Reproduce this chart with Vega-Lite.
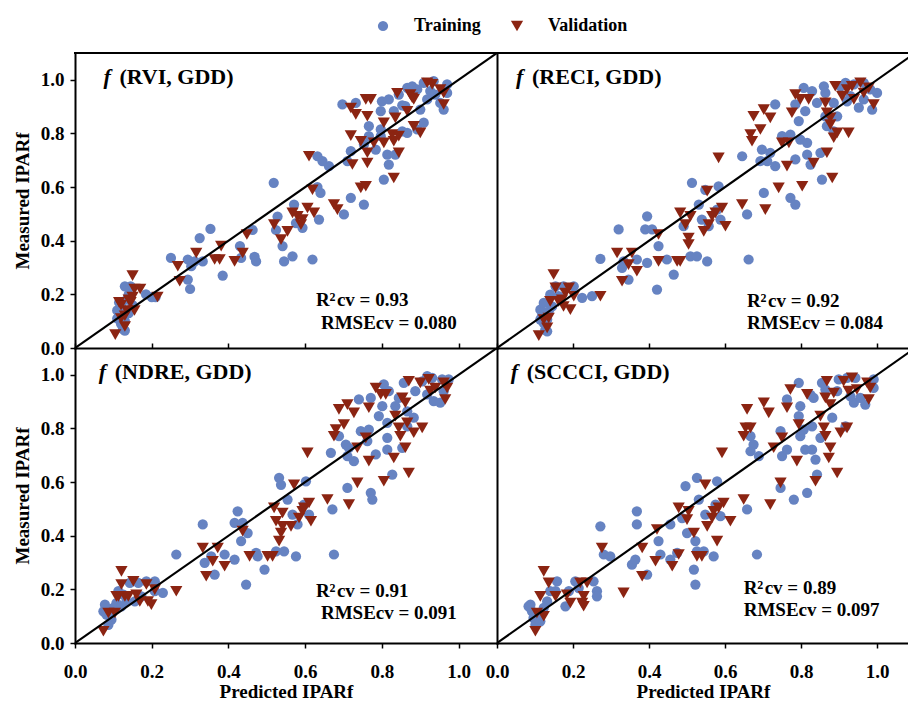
{
  "$schema": "https://vega.github.io/schema/vega-lite/v6.json",
  "padding": {"left": 13, "top": 17, "right": 0, "bottom": 0},
  "background": "white",
  "datasets": {
    "rvi": [
      {"set":"Training","pred":0.11,"meas":0.14},{"set":"Training","pred":0.115,"meas":0.12},{"set":"Training","pred":0.12,"meas":0.09},{"set":"Training","pred":0.125,"meas":0.07},{"set":"Training","pred":0.13,"meas":0.10},{"set":"Training","pred":0.12,"meas":0.16},{"set":"Training","pred":0.135,"meas":0.18},{"set":"Training","pred":0.14,"meas":0.20},{"set":"Training","pred":0.13,"meas":0.23},{"set":"Training","pred":0.145,"meas":0.23},{"set":"Training","pred":0.11,"meas":0.11},{"set":"Training","pred":0.125,"meas":0.13},{"set":"Training","pred":0.14,"meas":0.13},{"set":"Training","pred":0.115,"meas":0.17},{"set":"Training","pred":0.13,"meas":0.065},{"set":"Training","pred":0.15,"meas":0.16},{"set":"Training","pred":0.185,"meas":0.20},{"set":"Training","pred":0.20,"meas":0.19},{"set":"Training","pred":0.21,"meas":0.19},
      {"set":"Training","pred":0.25,"meas":0.336},{"set":"Training","pred":0.294,"meas":0.33},{"set":"Training","pred":0.303,"meas":0.305},{"set":"Training","pred":0.30,"meas":0.22},{"set":"Training","pred":0.294,"meas":0.255},{"set":"Training","pred":0.325,"meas":0.41},{"set":"Training","pred":0.353,"meas":0.444},{"set":"Training","pred":0.312,"meas":0.323},{"set":"Training","pred":0.333,"meas":0.323},{"set":"Training","pred":0.385,"meas":0.27},{"set":"Training","pred":0.43,"meas":0.38},{"set":"Training","pred":0.433,"meas":0.336},{"set":"Training","pred":0.463,"meas":0.44},{"set":"Training","pred":0.468,"meas":0.34},{"set":"Training","pred":0.472,"meas":0.323},{"set":"Training","pred":0.518,"meas":0.616},{"set":"Training","pred":0.528,"meas":0.49},{"set":"Training","pred":0.524,"meas":0.44},{"set":"Training","pred":0.541,"meas":0.38},{"set":"Training","pred":0.545,"meas":0.323},{"set":"Training","pred":0.567,"meas":0.342},{"set":"Training","pred":0.571,"meas":0.535},{"set":"Training","pred":0.576,"meas":0.466},{"set":"Training","pred":0.593,"meas":0.448},{"set":"Training","pred":0.619,"meas":0.33},{"set":"Training","pred":0.632,"meas":0.60},{"set":"Training","pred":0.64,"meas":0.578},{"set":"Training","pred":0.636,"meas":0.479},{"set":"Training","pred":0.662,"meas":0.678},{"set":"Training","pred":0.632,"meas":0.715},{"set":"Training","pred":0.645,"meas":0.697},{"set":"Training","pred":0.701,"meas":0.498},{"set":"Training","pred":0.719,"meas":0.56},{"set":"Training","pred":0.753,"meas":0.535},{"set":"Training","pred":0.71,"meas":0.697},{"set":"Training","pred":0.719,"meas":0.734},{"set":"Training","pred":0.753,"meas":0.759},{"set":"Training","pred":0.766,"meas":0.79},{"set":"Training","pred":0.766,"meas":0.827},{"set":"Training","pred":0.784,"meas":0.74},{"set":"Training","pred":0.805,"meas":0.628},{"set":"Training","pred":0.818,"meas":0.684},{"set":"Training","pred":0.814,"meas":0.721},{"set":"Training","pred":0.797,"meas":0.79},{"set":"Training","pred":0.797,"meas":0.815},{"set":"Training","pred":0.697,"meas":0.908},{"set":"Training","pred":0.732,"meas":0.914},{"set":"Training","pred":0.80,"meas":0.92},{"set":"Training","pred":0.818,"meas":0.927},{"set":"Training","pred":0.797,"meas":0.883},{"set":"Training","pred":0.831,"meas":0.883},{"set":"Training","pred":0.835,"meas":0.721},{"set":"Training","pred":0.853,"meas":0.808},{"set":"Training","pred":0.866,"meas":0.802},{"set":"Training","pred":0.892,"meas":0.815},{"set":"Training","pred":0.909,"meas":0.84},{"set":"Training","pred":0.90,"meas":0.889},{"set":"Training","pred":0.861,"meas":0.902},{"set":"Training","pred":0.866,"meas":0.97},{"set":"Training","pred":0.879,"meas":0.976},{"set":"Training","pred":0.892,"meas":0.964},{"set":"Training","pred":0.909,"meas":0.989},{"set":"Training","pred":0.935,"meas":0.995},{"set":"Training","pred":0.918,"meas":0.927},{"set":"Training","pred":0.939,"meas":0.945},{"set":"Training","pred":0.952,"meas":0.914},{"set":"Training","pred":0.961,"meas":0.889},{"set":"Training","pred":0.97,"meas":0.983},{"set":"Training","pred":0.97,"meas":0.951},{"set":"Training","pred":0.844,"meas":0.945},{"set":"Training","pred":0.853,"meas":0.905},{"set":"Training","pred":0.926,"meas":0.958},
      {"set":"Validation","pred":0.105,"meas":0.05},{"set":"Validation","pred":0.12,"meas":0.11},{"set":"Validation","pred":0.13,"meas":0.12},{"set":"Validation","pred":0.14,"meas":0.18},{"set":"Validation","pred":0.15,"meas":0.19},{"set":"Validation","pred":0.15,"meas":0.27},{"set":"Validation","pred":0.115,"meas":0.17},{"set":"Validation","pred":0.135,"meas":0.14},{"set":"Validation","pred":0.145,"meas":0.17},{"set":"Validation","pred":0.155,"meas":0.22},{"set":"Validation","pred":0.17,"meas":0.22},{"set":"Validation","pred":0.155,"meas":0.14},{"set":"Validation","pred":0.13,"meas":0.08},{"set":"Validation","pred":0.12,"meas":0.16},{"set":"Validation","pred":0.215,"meas":0.19},
      {"set":"Validation","pred":0.268,"meas":0.305},{"set":"Validation","pred":0.273,"meas":0.249},{"set":"Validation","pred":0.316,"meas":0.354},{"set":"Validation","pred":0.364,"meas":0.33},{"set":"Validation","pred":0.381,"meas":0.38},{"set":"Validation","pred":0.377,"meas":0.33},{"set":"Validation","pred":0.416,"meas":0.323},{"set":"Validation","pred":0.437,"meas":0.354},{"set":"Validation","pred":0.448,"meas":0.423},{"set":"Validation","pred":0.519,"meas":0.46},{"set":"Validation","pred":0.537,"meas":0.404},{"set":"Validation","pred":0.554,"meas":0.435},{"set":"Validation","pred":0.567,"meas":0.504},{"set":"Validation","pred":0.58,"meas":0.491},{"set":"Validation","pred":0.589,"meas":0.46},{"set":"Validation","pred":0.593,"meas":0.479},{"set":"Validation","pred":0.606,"meas":0.522},{"set":"Validation","pred":0.623,"meas":0.504},{"set":"Validation","pred":0.619,"meas":0.59},{"set":"Validation","pred":0.61,"meas":0.715},{"set":"Validation","pred":0.675,"meas":0.535},{"set":"Validation","pred":0.684,"meas":0.516},{"set":"Validation","pred":0.745,"meas":0.597},{"set":"Validation","pred":0.758,"meas":0.603},{"set":"Validation","pred":0.762,"meas":0.69},{"set":"Validation","pred":0.762,"meas":0.728},{"set":"Validation","pred":0.723,"meas":0.684},{"set":"Validation","pred":0.719,"meas":0.792},{"set":"Validation","pred":0.745,"meas":0.771},{"set":"Validation","pred":0.779,"meas":0.765},{"set":"Validation","pred":0.805,"meas":0.765},{"set":"Validation","pred":0.831,"meas":0.771},{"set":"Validation","pred":0.844,"meas":0.728},{"set":"Validation","pred":0.831,"meas":0.634},{"set":"Validation","pred":0.827,"meas":0.796},{"set":"Validation","pred":0.844,"meas":0.79},{"set":"Validation","pred":0.90,"meas":0.802},{"set":"Validation","pred":0.883,"meas":0.827},{"set":"Validation","pred":0.805,"meas":0.84},{"set":"Validation","pred":0.835,"meas":0.858},{"set":"Validation","pred":0.866,"meas":0.883},{"set":"Validation","pred":0.758,"meas":0.927},{"set":"Validation","pred":0.771,"meas":0.927},{"set":"Validation","pred":0.732,"meas":0.871},{"set":"Validation","pred":0.762,"meas":0.864},{"set":"Validation","pred":0.719,"meas":0.895},{"set":"Validation","pred":0.84,"meas":0.95},{"set":"Validation","pred":0.874,"meas":0.945},{"set":"Validation","pred":0.883,"meas":0.927},{"set":"Validation","pred":0.918,"meas":0.989},{"set":"Validation","pred":0.931,"meas":0.983},{"set":"Validation","pred":0.952,"meas":0.964},{"set":"Validation","pred":0.961,"meas":0.951},{"set":"Validation","pred":0.961,"meas":0.908},{"set":"Validation","pred":0.879,"meas":0.933}
    ],
    "reci": [
      {"set":"Training","pred":0.114,"meas":0.143},{"set":"Training","pred":0.118,"meas":0.118},{"set":"Training","pred":0.123,"meas":0.093},{"set":"Training","pred":0.127,"meas":0.068},{"set":"Training","pred":0.132,"meas":0.106},{"set":"Training","pred":0.123,"meas":0.168},{"set":"Training","pred":0.14,"meas":0.199},{"set":"Training","pred":0.154,"meas":0.23},{"set":"Training","pred":0.175,"meas":0.23},{"set":"Training","pred":0.202,"meas":0.23},{"set":"Training","pred":0.224,"meas":0.187},{"set":"Training","pred":0.25,"meas":0.193},{"set":"Training","pred":0.136,"meas":0.137},{"set":"Training","pred":0.145,"meas":0.155},{"set":"Training","pred":0.114,"meas":0.106},{"set":"Training","pred":0.132,"meas":0.062},{"set":"Training","pred":0.162,"meas":0.193},
      {"set":"Training","pred":0.272,"meas":0.332},{"set":"Training","pred":0.32,"meas":0.442},{"set":"Training","pred":0.333,"meas":0.323},{"set":"Training","pred":0.329,"meas":0.299},{"set":"Training","pred":0.346,"meas":0.255},{"set":"Training","pred":0.368,"meas":0.33},{"set":"Training","pred":0.395,"meas":0.317},{"set":"Training","pred":0.395,"meas":0.491},{"set":"Training","pred":0.39,"meas":0.442},{"set":"Training","pred":0.408,"meas":0.442},{"set":"Training","pred":0.421,"meas":0.218},{"set":"Training","pred":0.425,"meas":0.38},{"set":"Training","pred":0.447,"meas":0.33},{"set":"Training","pred":0.465,"meas":0.274},{"set":"Training","pred":0.491,"meas":0.454},{"set":"Training","pred":0.509,"meas":0.342},{"set":"Training","pred":0.513,"meas":0.616},{"set":"Training","pred":0.526,"meas":0.342},{"set":"Training","pred":0.531,"meas":0.535},{"set":"Training","pred":0.539,"meas":0.479},{"set":"Training","pred":0.548,"meas":0.59},{"set":"Training","pred":0.553,"meas":0.323},{"set":"Training","pred":0.557,"meas":0.454},{"set":"Training","pred":0.579,"meas":0.516},{"set":"Training","pred":0.583,"meas":0.603},{"set":"Training","pred":0.588,"meas":0.479},{"set":"Training","pred":0.645,"meas":0.715},{"set":"Training","pred":0.658,"meas":0.498},{"set":"Training","pred":0.662,"meas":0.33},{"set":"Training","pred":0.697,"meas":0.74},{"set":"Training","pred":0.702,"meas":0.578},{"set":"Training","pred":0.693,"meas":0.697},{"set":"Training","pred":0.711,"meas":0.697},{"set":"Training","pred":0.719,"meas":0.728},{"set":"Training","pred":0.732,"meas":0.678},{"set":"Training","pred":0.75,"meas":0.79},{"set":"Training","pred":0.772,"meas":0.796},{"set":"Training","pred":0.772,"meas":0.56},{"set":"Training","pred":0.785,"meas":0.535},{"set":"Training","pred":0.785,"meas":0.703},{"set":"Training","pred":0.794,"meas":0.846},{"set":"Training","pred":0.798,"meas":0.777},{"set":"Training","pred":0.816,"meas":0.765},{"set":"Training","pred":0.816,"meas":0.721},{"set":"Training","pred":0.825,"meas":0.684},{"set":"Training","pred":0.851,"meas":0.728},{"set":"Training","pred":0.855,"meas":0.628},{"set":"Training","pred":0.732,"meas":0.908},{"set":"Training","pred":0.785,"meas":0.908},{"set":"Training","pred":0.811,"meas":0.883},{"set":"Training","pred":0.807,"meas":0.97},{"set":"Training","pred":0.829,"meas":0.958},{"set":"Training","pred":0.86,"meas":0.976},{"set":"Training","pred":0.864,"meas":0.951},{"set":"Training","pred":0.842,"meas":0.914},{"set":"Training","pred":0.864,"meas":0.864},{"set":"Training","pred":0.868,"meas":0.827},{"set":"Training","pred":0.886,"meas":0.808},{"set":"Training","pred":0.895,"meas":0.864},{"set":"Training","pred":0.904,"meas":0.976},{"set":"Training","pred":0.917,"meas":0.989},{"set":"Training","pred":0.939,"meas":0.983},{"set":"Training","pred":0.952,"meas":0.896},{"set":"Training","pred":0.965,"meas":0.989},{"set":"Training","pred":0.982,"meas":0.964},{"set":"Training","pred":0.987,"meas":0.889},{"set":"Training","pred":1.0,"meas":0.951},{"set":"Training","pred":0.921,"meas":0.92},{"set":"Training","pred":0.93,"meas":0.939},{"set":"Training","pred":0.965,"meas":0.927},{"set":"Training","pred":0.886,"meas":0.914},
      {"set":"Validation","pred":0.11,"meas":0.046},{"set":"Validation","pred":0.123,"meas":0.106},{"set":"Validation","pred":0.136,"meas":0.112},{"set":"Validation","pred":0.14,"meas":0.174},{"set":"Validation","pred":0.149,"meas":0.274},{"set":"Validation","pred":0.154,"meas":0.224},{"set":"Validation","pred":0.171,"meas":0.18},{"set":"Validation","pred":0.18,"meas":0.205},{"set":"Validation","pred":0.189,"meas":0.224},{"set":"Validation","pred":0.193,"meas":0.143},{"set":"Validation","pred":0.202,"meas":0.193},{"set":"Validation","pred":0.272,"meas":0.193},{"set":"Validation","pred":0.162,"meas":0.174},{"set":"Validation","pred":0.132,"meas":0.075},{"set":"Validation","pred":0.175,"meas":0.155},
      {"set":"Validation","pred":0.316,"meas":0.354},{"set":"Validation","pred":0.329,"meas":0.249},{"set":"Validation","pred":0.346,"meas":0.311},{"set":"Validation","pred":0.355,"meas":0.354},{"set":"Validation","pred":0.368,"meas":0.286},{"set":"Validation","pred":0.425,"meas":0.423},{"set":"Validation","pred":0.425,"meas":0.323},{"set":"Validation","pred":0.474,"meas":0.323},{"set":"Validation","pred":0.482,"meas":0.323},{"set":"Validation","pred":0.482,"meas":0.504},{"set":"Validation","pred":0.496,"meas":0.46},{"set":"Validation","pred":0.504,"meas":0.41},{"set":"Validation","pred":0.504,"meas":0.386},{"set":"Validation","pred":0.509,"meas":0.491},{"set":"Validation","pred":0.544,"meas":0.435},{"set":"Validation","pred":0.553,"meas":0.585},{"set":"Validation","pred":0.557,"meas":0.46},{"set":"Validation","pred":0.566,"meas":0.491},{"set":"Validation","pred":0.575,"meas":0.504},{"set":"Validation","pred":0.592,"meas":0.522},{"set":"Validation","pred":0.601,"meas":0.454},{"set":"Validation","pred":0.583,"meas":0.709},{"set":"Validation","pred":0.645,"meas":0.535},{"set":"Validation","pred":0.706,"meas":0.516},{"set":"Validation","pred":0.741,"meas":0.597},{"set":"Validation","pred":0.763,"meas":0.678},{"set":"Validation","pred":0.803,"meas":0.603},{"set":"Validation","pred":0.833,"meas":0.69},{"set":"Validation","pred":0.882,"meas":0.634},{"set":"Validation","pred":0.868,"meas":0.728},{"set":"Validation","pred":0.675,"meas":0.864},{"set":"Validation","pred":0.702,"meas":0.889},{"set":"Validation","pred":0.719,"meas":0.858},{"set":"Validation","pred":0.667,"meas":0.796},{"set":"Validation","pred":0.671,"meas":0.771},{"set":"Validation","pred":0.693,"meas":0.815},{"set":"Validation","pred":0.75,"meas":0.765},{"set":"Validation","pred":0.768,"meas":0.765},{"set":"Validation","pred":0.776,"meas":0.877},{"set":"Validation","pred":0.785,"meas":0.945},{"set":"Validation","pred":0.798,"meas":0.927},{"set":"Validation","pred":0.82,"meas":0.927},{"set":"Validation","pred":0.864,"meas":0.914},{"set":"Validation","pred":0.868,"meas":0.877},{"set":"Validation","pred":0.877,"meas":0.833},{"set":"Validation","pred":0.886,"meas":0.784},{"set":"Validation","pred":0.895,"meas":0.802},{"set":"Validation","pred":0.925,"meas":0.802},{"set":"Validation","pred":0.89,"meas":0.976},{"set":"Validation","pred":0.908,"meas":0.939},{"set":"Validation","pred":0.921,"meas":0.964},{"set":"Validation","pred":0.934,"meas":0.976},{"set":"Validation","pred":0.956,"meas":0.989},{"set":"Validation","pred":0.965,"meas":0.951},{"set":"Validation","pred":0.978,"meas":0.97},{"set":"Validation","pred":0.991,"meas":0.908},{"set":"Validation","pred":0.939,"meas":0.927},{"set":"Validation","pred":0.877,"meas":0.858}
    ],
    "ndre": [
      {"set":"Training","pred":0.074,"meas":0.118},{"set":"Training","pred":0.078,"meas":0.143},{"set":"Training","pred":0.082,"meas":0.106},{"set":"Training","pred":0.087,"meas":0.068},{"set":"Training","pred":0.095,"meas":0.087},{"set":"Training","pred":0.1,"meas":0.131},{"set":"Training","pred":0.108,"meas":0.149},{"set":"Training","pred":0.113,"meas":0.193},{"set":"Training","pred":0.121,"meas":0.137},{"set":"Training","pred":0.134,"meas":0.155},{"set":"Training","pred":0.143,"meas":0.224},{"set":"Training","pred":0.165,"meas":0.224},{"set":"Training","pred":0.186,"meas":0.23},{"set":"Training","pred":0.208,"meas":0.23},{"set":"Training","pred":0.229,"meas":0.187},{"set":"Training","pred":0.173,"meas":0.174},{"set":"Training","pred":0.156,"meas":0.155},{"set":"Training","pred":0.126,"meas":0.18},{"set":"Training","pred":0.208,"meas":0.193},{"set":"Training","pred":0.09,"meas":0.1},
      {"set":"Training","pred":0.264,"meas":0.33},{"set":"Training","pred":0.333,"meas":0.442},{"set":"Training","pred":0.338,"meas":0.299},{"set":"Training","pred":0.355,"meas":0.323},{"set":"Training","pred":0.364,"meas":0.255},{"set":"Training","pred":0.39,"meas":0.33},{"set":"Training","pred":0.416,"meas":0.311},{"set":"Training","pred":0.424,"meas":0.491},{"set":"Training","pred":0.416,"meas":0.448},{"set":"Training","pred":0.437,"meas":0.448},{"set":"Training","pred":0.433,"meas":0.38},{"set":"Training","pred":0.45,"meas":0.41},{"set":"Training","pred":0.446,"meas":0.218},{"set":"Training","pred":0.472,"meas":0.336},{"set":"Training","pred":0.476,"meas":0.323},{"set":"Training","pred":0.494,"meas":0.274},{"set":"Training","pred":0.524,"meas":0.342},{"set":"Training","pred":0.532,"meas":0.616},{"set":"Training","pred":0.537,"meas":0.59},{"set":"Training","pred":0.545,"meas":0.342},{"set":"Training","pred":0.554,"meas":0.535},{"set":"Training","pred":0.567,"meas":0.479},{"set":"Training","pred":0.576,"meas":0.323},{"set":"Training","pred":0.58,"meas":0.442},{"set":"Training","pred":0.597,"meas":0.516},{"set":"Training","pred":0.602,"meas":0.603},{"set":"Training","pred":0.61,"meas":0.479},{"set":"Training","pred":0.667,"meas":0.709},{"set":"Training","pred":0.671,"meas":0.498},{"set":"Training","pred":0.675,"meas":0.33},{"set":"Training","pred":0.688,"meas":0.771},{"set":"Training","pred":0.706,"meas":0.74},{"set":"Training","pred":0.71,"meas":0.697},{"set":"Training","pred":0.714,"meas":0.728},{"set":"Training","pred":0.71,"meas":0.578},{"set":"Training","pred":0.727,"meas":0.678},{"set":"Training","pred":0.74,"meas":0.908},{"set":"Training","pred":0.745,"meas":0.79},{"set":"Training","pred":0.766,"meas":0.796},{"set":"Training","pred":0.762,"meas":0.753},{"set":"Training","pred":0.771,"meas":0.56},{"set":"Training","pred":0.775,"meas":0.535},{"set":"Training","pred":0.784,"meas":0.703},{"set":"Training","pred":0.792,"meas":0.846},{"set":"Training","pred":0.805,"meas":0.964},{"set":"Training","pred":0.814,"meas":0.821},{"set":"Training","pred":0.814,"meas":0.765},{"set":"Training","pred":0.814,"meas":0.721},{"set":"Training","pred":0.827,"meas":0.628},{"set":"Training","pred":0.853,"meas":0.728},{"set":"Training","pred":0.771,"meas":0.914},{"set":"Training","pred":0.801,"meas":0.883},{"set":"Training","pred":0.818,"meas":0.939},{"set":"Training","pred":0.835,"meas":0.883},{"set":"Training","pred":0.844,"meas":0.914},{"set":"Training","pred":0.857,"meas":0.97},{"set":"Training","pred":0.866,"meas":0.864},{"set":"Training","pred":0.866,"meas":0.808},{"set":"Training","pred":0.883,"meas":0.84},{"set":"Training","pred":0.887,"meas":0.939},{"set":"Training","pred":0.905,"meas":0.976},{"set":"Training","pred":0.918,"meas":0.995},{"set":"Training","pred":0.931,"meas":0.989},{"set":"Training","pred":0.935,"meas":0.902},{"set":"Training","pred":0.952,"meas":0.896},{"set":"Training","pred":0.957,"meas":0.983},{"set":"Training","pred":0.974,"meas":0.983},{"set":"Training","pred":0.918,"meas":0.927},{"set":"Training","pred":0.961,"meas":0.939},
      {"set":"Validation","pred":0.074,"meas":0.044},{"set":"Validation","pred":0.087,"meas":0.112},{"set":"Validation","pred":0.104,"meas":0.112},{"set":"Validation","pred":0.108,"meas":0.174},{"set":"Validation","pred":0.121,"meas":0.267},{"set":"Validation","pred":0.121,"meas":0.218},{"set":"Validation","pred":0.13,"meas":0.174},{"set":"Validation","pred":0.139,"meas":0.174},{"set":"Validation","pred":0.16,"meas":0.18},{"set":"Validation","pred":0.169,"meas":0.155},{"set":"Validation","pred":0.186,"meas":0.218},{"set":"Validation","pred":0.19,"meas":0.155},{"set":"Validation","pred":0.199,"meas":0.143},{"set":"Validation","pred":0.208,"meas":0.199},{"set":"Validation","pred":0.264,"meas":0.193},{"set":"Validation","pred":0.152,"meas":0.23},{"set":"Validation","pred":0.113,"meas":0.174},
      {"set":"Validation","pred":0.333,"meas":0.354},{"set":"Validation","pred":0.342,"meas":0.249},{"set":"Validation","pred":0.359,"meas":0.305},{"set":"Validation","pred":0.372,"meas":0.354},{"set":"Validation","pred":0.39,"meas":0.286},{"set":"Validation","pred":0.437,"meas":0.417},{"set":"Validation","pred":0.455,"meas":0.323},{"set":"Validation","pred":0.502,"meas":0.323},{"set":"Validation","pred":0.515,"meas":0.323},{"set":"Validation","pred":0.519,"meas":0.504},{"set":"Validation","pred":0.524,"meas":0.454},{"set":"Validation","pred":0.532,"meas":0.38},{"set":"Validation","pred":0.537,"meas":0.41},{"set":"Validation","pred":0.541,"meas":0.485},{"set":"Validation","pred":0.541,"meas":0.435},{"set":"Validation","pred":0.563,"meas":0.435},{"set":"Validation","pred":0.571,"meas":0.59},{"set":"Validation","pred":0.584,"meas":0.466},{"set":"Validation","pred":0.593,"meas":0.491},{"set":"Validation","pred":0.597,"meas":0.504},{"set":"Validation","pred":0.61,"meas":0.522},{"set":"Validation","pred":0.615,"meas":0.454},{"set":"Validation","pred":0.606,"meas":0.709},{"set":"Validation","pred":0.658,"meas":0.535},{"set":"Validation","pred":0.714,"meas":0.516},{"set":"Validation","pred":0.736,"meas":0.597},{"set":"Validation","pred":0.766,"meas":0.678},{"set":"Validation","pred":0.805,"meas":0.603},{"set":"Validation","pred":0.831,"meas":0.69},{"set":"Validation","pred":0.87,"meas":0.634},{"set":"Validation","pred":0.861,"meas":0.728},{"set":"Validation","pred":0.688,"meas":0.871},{"set":"Validation","pred":0.71,"meas":0.889},{"set":"Validation","pred":0.727,"meas":0.858},{"set":"Validation","pred":0.68,"meas":0.796},{"set":"Validation","pred":0.675,"meas":0.771},{"set":"Validation","pred":0.701,"meas":0.815},{"set":"Validation","pred":0.736,"meas":0.728},{"set":"Validation","pred":0.758,"meas":0.765},{"set":"Validation","pred":0.766,"meas":0.877},{"set":"Validation","pred":0.784,"meas":0.951},{"set":"Validation","pred":0.797,"meas":0.927},{"set":"Validation","pred":0.81,"meas":0.927},{"set":"Validation","pred":0.835,"meas":0.846},{"set":"Validation","pred":0.844,"meas":0.802},{"set":"Validation","pred":0.848,"meas":0.771},{"set":"Validation","pred":0.866,"meas":0.821},{"set":"Validation","pred":0.883,"meas":0.784},{"set":"Validation","pred":0.905,"meas":0.802},{"set":"Validation","pred":0.853,"meas":0.914},{"set":"Validation","pred":0.861,"meas":0.896},{"set":"Validation","pred":0.87,"meas":0.976},{"set":"Validation","pred":0.9,"meas":0.97},{"set":"Validation","pred":0.922,"meas":0.983},{"set":"Validation","pred":0.926,"meas":0.939},{"set":"Validation","pred":0.939,"meas":0.951},{"set":"Validation","pred":0.961,"meas":0.97},{"set":"Validation","pred":0.97,"meas":0.951},{"set":"Validation","pred":0.965,"meas":0.908}
    ],
    "sccci": [
      {"set":"Training","pred":0.088,"meas":0.143},{"set":"Training","pred":0.092,"meas":0.118},{"set":"Training","pred":0.096,"meas":0.093},{"set":"Training","pred":0.101,"meas":0.068},{"set":"Training","pred":0.105,"meas":0.106},{"set":"Training","pred":0.114,"meas":0.081},{"set":"Training","pred":0.132,"meas":0.155},{"set":"Training","pred":0.14,"meas":0.193},{"set":"Training","pred":0.158,"meas":0.23},{"set":"Training","pred":0.18,"meas":0.137},{"set":"Training","pred":0.189,"meas":0.193},{"set":"Training","pred":0.206,"meas":0.23},{"set":"Training","pred":0.215,"meas":0.205},{"set":"Training","pred":0.254,"meas":0.23},{"set":"Training","pred":0.263,"meas":0.193},{"set":"Training","pred":0.263,"meas":0.174},{"set":"Training","pred":0.154,"meas":0.193},{"set":"Training","pred":0.123,"meas":0.131},{"set":"Training","pred":0.083,"meas":0.137},
      {"set":"Training","pred":0.272,"meas":0.435},{"set":"Training","pred":0.281,"meas":0.33},{"set":"Training","pred":0.298,"meas":0.323},{"set":"Training","pred":0.355,"meas":0.292},{"set":"Training","pred":0.364,"meas":0.311},{"set":"Training","pred":0.368,"meas":0.491},{"set":"Training","pred":0.368,"meas":0.442},{"set":"Training","pred":0.395,"meas":0.255},{"set":"Training","pred":0.425,"meas":0.38},{"set":"Training","pred":0.43,"meas":0.33},{"set":"Training","pred":0.456,"meas":0.442},{"set":"Training","pred":0.456,"meas":0.311},{"set":"Training","pred":0.474,"meas":0.336},{"set":"Training","pred":0.487,"meas":0.466},{"set":"Training","pred":0.496,"meas":0.585},{"set":"Training","pred":0.5,"meas":0.41},{"set":"Training","pred":0.518,"meas":0.274},{"set":"Training","pred":0.522,"meas":0.218},{"set":"Training","pred":0.522,"meas":0.38},{"set":"Training","pred":0.526,"meas":0.616},{"set":"Training","pred":0.526,"meas":0.342},{"set":"Training","pred":0.531,"meas":0.535},{"set":"Training","pred":0.544,"meas":0.342},{"set":"Training","pred":0.548,"meas":0.479},{"set":"Training","pred":0.57,"meas":0.323},{"set":"Training","pred":0.575,"meas":0.516},{"set":"Training","pred":0.579,"meas":0.603},{"set":"Training","pred":0.588,"meas":0.473},{"set":"Training","pred":0.658,"meas":0.498},{"set":"Training","pred":0.667,"meas":0.771},{"set":"Training","pred":0.675,"meas":0.74},{"set":"Training","pred":0.667,"meas":0.715},{"set":"Training","pred":0.684,"meas":0.33},{"set":"Training","pred":0.689,"meas":0.697},{"set":"Training","pred":0.746,"meas":0.578},{"set":"Training","pred":0.746,"meas":0.79},{"set":"Training","pred":0.75,"meas":0.697},{"set":"Training","pred":0.763,"meas":0.908},{"set":"Training","pred":0.763,"meas":0.721},{"set":"Training","pred":0.781,"meas":0.535},{"set":"Training","pred":0.794,"meas":0.97},{"set":"Training","pred":0.798,"meas":0.883},{"set":"Training","pred":0.794,"meas":0.846},{"set":"Training","pred":0.798,"meas":0.771},{"set":"Training","pred":0.807,"meas":0.796},{"set":"Training","pred":0.811,"meas":0.721},{"set":"Training","pred":0.816,"meas":0.56},{"set":"Training","pred":0.829,"meas":0.808},{"set":"Training","pred":0.829,"meas":0.721},{"set":"Training","pred":0.838,"meas":0.684},{"set":"Training","pred":0.842,"meas":0.628},{"set":"Training","pred":0.851,"meas":0.765},{"set":"Training","pred":0.833,"meas":0.914},{"set":"Training","pred":0.855,"meas":0.97},{"set":"Training","pred":0.864,"meas":0.945},{"set":"Training","pred":0.882,"meas":0.84},{"set":"Training","pred":0.895,"meas":0.939},{"set":"Training","pred":0.899,"meas":0.983},{"set":"Training","pred":0.917,"meas":0.808},{"set":"Training","pred":0.921,"meas":0.989},{"set":"Training","pred":0.939,"meas":0.896},{"set":"Training","pred":0.943,"meas":0.989},{"set":"Training","pred":0.956,"meas":0.914},{"set":"Training","pred":0.969,"meas":0.889},{"set":"Training","pred":0.991,"meas":0.983},{"set":"Training","pred":0.991,"meas":0.951},{"set":"Training","pred":0.93,"meas":0.92},{"set":"Training","pred":0.825,"meas":0.925},
      {"set":"Validation","pred":0.101,"meas":0.044},{"set":"Validation","pred":0.105,"meas":0.112},{"set":"Validation","pred":0.123,"meas":0.1},{"set":"Validation","pred":0.123,"meas":0.267},{"set":"Validation","pred":0.136,"meas":0.224},{"set":"Validation","pred":0.114,"meas":0.174},{"set":"Validation","pred":0.154,"meas":0.174},{"set":"Validation","pred":0.184,"meas":0.18},{"set":"Validation","pred":0.193,"meas":0.149},{"set":"Validation","pred":0.219,"meas":0.224},{"set":"Validation","pred":0.224,"meas":0.149},{"set":"Validation","pred":0.228,"meas":0.174},{"set":"Validation","pred":0.237,"meas":0.224},{"set":"Validation","pred":0.333,"meas":0.187},{"set":"Validation","pred":0.228,"meas":0.137},
      {"set":"Validation","pred":0.276,"meas":0.354},{"set":"Validation","pred":0.382,"meas":0.354},{"set":"Validation","pred":0.382,"meas":0.249},{"set":"Validation","pred":0.417,"meas":0.305},{"set":"Validation","pred":0.421,"meas":0.423},{"set":"Validation","pred":0.461,"meas":0.286},{"set":"Validation","pred":0.478,"meas":0.33},{"set":"Validation","pred":0.478,"meas":0.504},{"set":"Validation","pred":0.5,"meas":0.46},{"set":"Validation","pred":0.504,"meas":0.491},{"set":"Validation","pred":0.518,"meas":0.41},{"set":"Validation","pred":0.526,"meas":0.323},{"set":"Validation","pred":0.539,"meas":0.323},{"set":"Validation","pred":0.548,"meas":0.59},{"set":"Validation","pred":0.553,"meas":0.435},{"set":"Validation","pred":0.566,"meas":0.466},{"set":"Validation","pred":0.57,"meas":0.491},{"set":"Validation","pred":0.579,"meas":0.38},{"set":"Validation","pred":0.583,"meas":0.504},{"set":"Validation","pred":0.596,"meas":0.522},{"set":"Validation","pred":0.614,"meas":0.454},{"set":"Validation","pred":0.592,"meas":0.709},{"set":"Validation","pred":0.649,"meas":0.535},{"set":"Validation","pred":0.719,"meas":0.516},{"set":"Validation","pred":0.746,"meas":0.597},{"set":"Validation","pred":0.789,"meas":0.678},{"set":"Validation","pred":0.838,"meas":0.603},{"set":"Validation","pred":0.873,"meas":0.69},{"set":"Validation","pred":0.895,"meas":0.634},{"set":"Validation","pred":0.877,"meas":0.728},{"set":"Validation","pred":0.658,"meas":0.871},{"set":"Validation","pred":0.702,"meas":0.896},{"set":"Validation","pred":0.715,"meas":0.858},{"set":"Validation","pred":0.654,"meas":0.802},{"set":"Validation","pred":0.649,"meas":0.771},{"set":"Validation","pred":0.667,"meas":0.802},{"set":"Validation","pred":0.728,"meas":0.728},{"set":"Validation","pred":0.75,"meas":0.765},{"set":"Validation","pred":0.763,"meas":0.877},{"set":"Validation","pred":0.772,"meas":0.945},{"set":"Validation","pred":0.794,"meas":0.815},{"set":"Validation","pred":0.816,"meas":0.927},{"set":"Validation","pred":0.851,"meas":0.846},{"set":"Validation","pred":0.86,"meas":0.802},{"set":"Validation","pred":0.864,"meas":0.771},{"set":"Validation","pred":0.868,"meas":0.976},{"set":"Validation","pred":0.864,"meas":0.914},{"set":"Validation","pred":0.877,"meas":0.889},{"set":"Validation","pred":0.904,"meas":0.784},{"set":"Validation","pred":0.921,"meas":0.802},{"set":"Validation","pred":0.886,"meas":0.932},{"set":"Validation","pred":0.912,"meas":0.976},{"set":"Validation","pred":0.934,"meas":0.989},{"set":"Validation","pred":0.947,"meas":0.945},{"set":"Validation","pred":0.974,"meas":0.97},{"set":"Validation","pred":0.982,"meas":0.951},{"set":"Validation","pred":0.978,"meas":0.908},{"set":"Validation","pred":0.925,"meas":0.939}
    ]
  },
  "bounds": "flush",
  "spacing": 0,
  "columns": 2,
  "resolve": {
    "scale": {"color": "shared", "shape": "shared", "size": "shared", "x": "independent", "y": "independent"},
    "legend": {"color": "shared", "shape": "shared"}
  },
  "concat": [
    {
      "width": 422,
      "height": 295,
      "layer": [
        {
          "data": {"name": "rvi"},
          "mark": {"type": "point", "filled": true, "opacity": 1, "strokeWidth": 0},
          "encoding": {
            "x": {"field": "pred", "type": "quantitative", "scale": {"domain": [0, 1.1], "nice": false, "zero": false}, "axis": {"values": [0, 0.2, 0.4, 0.6, 0.8, 1.0], "format": ".1f", "labels": false, "title": null, "tickSize": -5}},
            "y": {"field": "meas", "type": "quantitative", "scale": {"domain": [0, 1.1], "nice": false, "zero": false}, "axis": {"values": [0, 0.2, 0.4, 0.6, 0.8, 1.0], "format": ".1f", "title": "Measured IPARf"}},
            "color": {"field": "set", "type": "nominal", "scale": {"domain": ["Training", "Validation"], "range": ["#6683c2", "#8b2412"]}, "legend": {"title": null}},
            "shape": {"field": "set", "type": "nominal", "scale": {"domain": ["Training", "Validation"], "range": ["circle", "triangle-down"]}, "legend": {"title": null}},
            "size": {"field": "set", "type": "nominal", "scale": {"domain": ["Training", "Validation"], "range": [105, 150]}, "legend": null}
          }
        },
        {"data": {"values": [{}]}, "mark": {"type": "rule", "color": "black", "strokeWidth": 2, "strokeCap": "square"}, "encoding": {"y": {"datum": 1.1}}},
        {"data": {"values": [{}]}, "mark": {"type": "rule", "clip": true, "color": "black", "strokeWidth": 2.2}, "encoding": {"x": {"datum": 0}, "y": {"datum": 0}, "x2": {"datum": 1.1}, "y2": {"datum": 1.1}}},
        {"data": {"values": [{}]}, "mark": {"type": "text", "text": "f", "fontStyle": "italic", "fontWeight": "bold", "fontSize": 22, "align": "left", "baseline": "alphabetic", "color": "black"}, "encoding": {"x": {"datum": 0.074}, "y": {"datum": 0.985}}},
        {"data": {"values": [{}]}, "mark": {"type": "text", "text": "(RVI, GDD)", "dx": 16, "fontWeight": "bold", "fontSize": 22, "align": "left", "baseline": "alphabetic", "color": "black"}, "encoding": {"x": {"datum": 0.074}, "y": {"datum": 0.985}}},
        {"data": {"values": [{}]}, "mark": {"type": "text", "text": "R", "fontWeight": "bold", "fontSize": 19, "align": "left", "baseline": "alphabetic", "color": "black"}, "encoding": {"x": {"datum": 0.628}, "y": {"datum": 0.155}}},
        {"data": {"values": [{}]}, "mark": {"type": "text", "text": "2", "dx": 13.5, "dy": -5, "fontWeight": "bold", "fontSize": 12, "align": "left", "baseline": "alphabetic", "color": "black"}, "encoding": {"x": {"datum": 0.628}, "y": {"datum": 0.155}}},
        {"data": {"values": [{}]}, "mark": {"type": "text", "text": "cv = 0.93", "dx": 21, "fontWeight": "bold", "fontSize": 19, "align": "left", "baseline": "alphabetic", "color": "black"}, "encoding": {"x": {"datum": 0.628}, "y": {"datum": 0.155}}},
        {"data": {"values": [{}]}, "mark": {"type": "text", "text": "RMSEcv = 0.080", "fontWeight": "bold", "fontSize": 19, "align": "left", "baseline": "alphabetic", "color": "black"}, "encoding": {"x": {"datum": 0.641}, "y": {"datum": 0.069}}}
      ]
    },
    {
      "width": 412,
      "height": 295,
      "layer": [
        {
          "data": {"name": "reci"},
          "mark": {"type": "point", "filled": true, "opacity": 1, "strokeWidth": 0},
          "encoding": {
            "x": {"field": "pred", "type": "quantitative", "scale": {"domain": [0, 1.084], "nice": false, "zero": false}, "axis": {"values": [0, 0.2, 0.4, 0.6, 0.8, 1.0], "format": ".1f", "labels": false, "title": null, "tickSize": -5}},
            "y": {"field": "meas", "type": "quantitative", "scale": {"domain": [0, 1.1], "nice": false, "zero": false}, "axis": {"labels": false, "ticks": false, "title": null}},
            "color": {"field": "set", "type": "nominal", "scale": {"domain": ["Training", "Validation"], "range": ["#6683c2", "#8b2412"]}, "legend": {"title": null}},
            "shape": {"field": "set", "type": "nominal", "scale": {"domain": ["Training", "Validation"], "range": ["circle", "triangle-down"]}, "legend": {"title": null}},
            "size": {"field": "set", "type": "nominal", "scale": {"domain": ["Training", "Validation"], "range": [105, 150]}, "legend": null}
          }
        },
        {"data": {"values": [{}]}, "mark": {"type": "rule", "color": "black", "strokeWidth": 2}, "encoding": {"y": {"datum": 1.1}}},
        {"data": {"values": [{}]}, "mark": {"type": "rule", "clip": true, "color": "black", "strokeWidth": 2.2}, "encoding": {"x": {"datum": 0}, "y": {"datum": 0}, "x2": {"datum": 1.1}, "y2": {"datum": 1.1}}},
        {"data": {"values": [{}]}, "mark": {"type": "text", "text": "f", "fontStyle": "italic", "fontWeight": "bold", "fontSize": 22, "align": "left", "baseline": "alphabetic", "color": "black"}, "encoding": {"x": {"datum": 0.05}, "y": {"datum": 0.985}}},
        {"data": {"values": [{}]}, "mark": {"type": "text", "text": "(RECI, GDD)", "dx": 16, "fontWeight": "bold", "fontSize": 22, "align": "left", "baseline": "alphabetic", "color": "black"}, "encoding": {"x": {"datum": 0.05}, "y": {"datum": 0.985}}},
        {"data": {"values": [{}]}, "mark": {"type": "text", "text": "R", "fontWeight": "bold", "fontSize": 19, "align": "left", "baseline": "alphabetic", "color": "black"}, "encoding": {"x": {"datum": 0.658}, "y": {"datum": 0.152}}},
        {"data": {"values": [{}]}, "mark": {"type": "text", "text": "2", "dx": 13.5, "dy": -5, "fontWeight": "bold", "fontSize": 12, "align": "left", "baseline": "alphabetic", "color": "black"}, "encoding": {"x": {"datum": 0.658}, "y": {"datum": 0.152}}},
        {"data": {"values": [{}]}, "mark": {"type": "text", "text": "cv = 0.92", "dx": 21, "fontWeight": "bold", "fontSize": 19, "align": "left", "baseline": "alphabetic", "color": "black"}, "encoding": {"x": {"datum": 0.658}, "y": {"datum": 0.152}}},
        {"data": {"values": [{}]}, "mark": {"type": "text", "text": "RMSEcv = 0.084", "fontWeight": "bold", "fontSize": 19, "align": "left", "baseline": "alphabetic", "color": "black"}, "encoding": {"x": {"datum": 0.658}, "y": {"datum": 0.071}}}
      ]
    },
    {
      "width": 422,
      "height": 295,
      "layer": [
        {
          "data": {"name": "ndre"},
          "mark": {"type": "point", "filled": true, "opacity": 1, "strokeWidth": 0},
          "encoding": {
            "x": {"field": "pred", "type": "quantitative", "scale": {"domain": [0, 1.1], "nice": false, "zero": false}, "axis": {"values": [0, 0.2, 0.4, 0.6, 0.8, 1.0], "format": ".1f", "title": "Predicted IPARf"}},
            "y": {"field": "meas", "type": "quantitative", "scale": {"domain": [0, 1.1], "nice": false, "zero": false}, "axis": {"values": [0, 0.2, 0.4, 0.6, 0.8, 1.0], "format": ".1f", "title": "Measured IPARf"}},
            "color": {"field": "set", "type": "nominal", "scale": {"domain": ["Training", "Validation"], "range": ["#6683c2", "#8b2412"]}, "legend": {"title": null}},
            "shape": {"field": "set", "type": "nominal", "scale": {"domain": ["Training", "Validation"], "range": ["circle", "triangle-down"]}, "legend": {"title": null}},
            "size": {"field": "set", "type": "nominal", "scale": {"domain": ["Training", "Validation"], "range": [105, 150]}, "legend": null}
          }
        },
        {"data": {"values": [{}]}, "mark": {"type": "rule", "clip": true, "color": "black", "strokeWidth": 2.2}, "encoding": {"x": {"datum": 0}, "y": {"datum": 0}, "x2": {"datum": 1.1}, "y2": {"datum": 1.1}}},
        {"data": {"values": [{}]}, "mark": {"type": "text", "text": "f", "fontStyle": "italic", "fontWeight": "bold", "fontSize": 22, "align": "left", "baseline": "alphabetic", "color": "black"}, "encoding": {"x": {"datum": 0.062}, "y": {"datum": 0.985}}},
        {"data": {"values": [{}]}, "mark": {"type": "text", "text": "(NDRE, GDD)", "dx": 16, "fontWeight": "bold", "fontSize": 22, "align": "left", "baseline": "alphabetic", "color": "black"}, "encoding": {"x": {"datum": 0.062}, "y": {"datum": 0.985}}},
        {"data": {"values": [{}]}, "mark": {"type": "text", "text": "R", "fontWeight": "bold", "fontSize": 19, "align": "left", "baseline": "alphabetic", "color": "black"}, "encoding": {"x": {"datum": 0.628}, "y": {"datum": 0.17}}},
        {"data": {"values": [{}]}, "mark": {"type": "text", "text": "2", "dx": 13.5, "dy": -5, "fontWeight": "bold", "fontSize": 12, "align": "left", "baseline": "alphabetic", "color": "black"}, "encoding": {"x": {"datum": 0.628}, "y": {"datum": 0.17}}},
        {"data": {"values": [{}]}, "mark": {"type": "text", "text": "cv = 0.91", "dx": 21, "fontWeight": "bold", "fontSize": 19, "align": "left", "baseline": "alphabetic", "color": "black"}, "encoding": {"x": {"datum": 0.628}, "y": {"datum": 0.17}}},
        {"data": {"values": [{}]}, "mark": {"type": "text", "text": "RMSEcv = 0.091", "fontWeight": "bold", "fontSize": 19, "align": "left", "baseline": "alphabetic", "color": "black"}, "encoding": {"x": {"datum": 0.641}, "y": {"datum": 0.09}}}
      ]
    },
    {
      "width": 412,
      "height": 295,
      "layer": [
        {
          "data": {"name": "sccci"},
          "mark": {"type": "point", "filled": true, "opacity": 1, "strokeWidth": 0},
          "encoding": {
            "x": {"field": "pred", "type": "quantitative", "scale": {"domain": [0, 1.084], "nice": false, "zero": false}, "axis": {"values": [0, 0.2, 0.4, 0.6, 0.8, 1.0], "format": ".1f", "title": "Predicted IPARf"}},
            "y": {"field": "meas", "type": "quantitative", "scale": {"domain": [0, 1.1], "nice": false, "zero": false}, "axis": {"labels": false, "ticks": false, "title": null}},
            "color": {"field": "set", "type": "nominal", "scale": {"domain": ["Training", "Validation"], "range": ["#6683c2", "#8b2412"]}, "legend": {"title": null}},
            "shape": {"field": "set", "type": "nominal", "scale": {"domain": ["Training", "Validation"], "range": ["circle", "triangle-down"]}, "legend": {"title": null}},
            "size": {"field": "set", "type": "nominal", "scale": {"domain": ["Training", "Validation"], "range": [105, 150]}, "legend": null}
          }
        },
        {"data": {"values": [{}]}, "mark": {"type": "rule", "clip": true, "color": "black", "strokeWidth": 2.2}, "encoding": {"x": {"datum": 0}, "y": {"datum": 0}, "x2": {"datum": 1.1}, "y2": {"datum": 1.1}}},
        {"data": {"values": [{}]}, "mark": {"type": "text", "text": "f", "fontStyle": "italic", "fontWeight": "bold", "fontSize": 22, "align": "left", "baseline": "alphabetic", "color": "black"}, "encoding": {"x": {"datum": 0.036}, "y": {"datum": 0.985}}},
        {"data": {"values": [{}]}, "mark": {"type": "text", "text": "(SCCCI, GDD)", "dx": 16, "fontWeight": "bold", "fontSize": 22, "align": "left", "baseline": "alphabetic", "color": "black"}, "encoding": {"x": {"datum": 0.036}, "y": {"datum": 0.985}}},
        {"data": {"values": [{}]}, "mark": {"type": "text", "text": "R", "fontWeight": "bold", "fontSize": 19, "align": "left", "baseline": "alphabetic", "color": "black"}, "encoding": {"x": {"datum": 0.649}, "y": {"datum": 0.183}}},
        {"data": {"values": [{}]}, "mark": {"type": "text", "text": "2", "dx": 13.5, "dy": -5, "fontWeight": "bold", "fontSize": 12, "align": "left", "baseline": "alphabetic", "color": "black"}, "encoding": {"x": {"datum": 0.649}, "y": {"datum": 0.183}}},
        {"data": {"values": [{}]}, "mark": {"type": "text", "text": "cv = 0.89", "dx": 21, "fontWeight": "bold", "fontSize": 19, "align": "left", "baseline": "alphabetic", "color": "black"}, "encoding": {"x": {"datum": 0.649}, "y": {"datum": 0.183}}},
        {"data": {"values": [{}]}, "mark": {"type": "text", "text": "RMSEcv = 0.097", "fontWeight": "bold", "fontSize": 19, "align": "left", "baseline": "alphabetic", "color": "black"}, "encoding": {"x": {"datum": 0.649}, "y": {"datum": 0.102}}}
      ]
    }
  ],
  "config": {
    "view": {"stroke": null},
    "font": "Liberation Serif, Times New Roman, serif",
    "text": {"font": "Liberation Serif, Times New Roman, serif"},
    "axis": {
      "grid": false,
      "domainColor": "black",
      "domainWidth": 2,
      "domainCap": "square",
      "tickColor": "black",
      "tickWidth": 1.5,
      "tickSize": 5,
      "labelFont": "Liberation Serif, Times New Roman, serif",
      "labelFontWeight": "bold",
      "labelFontSize": 19,
      "labelColor": "black",
      "labelFlush": false,
      "labelOverlap": false,
      "titleFont": "Liberation Serif, Times New Roman, serif",
      "titleFontWeight": "bold",
      "titleFontSize": 19,
      "titleColor": "black"
    },
    "axisX": {"labelPadding": 14, "titlePadding": 1},
    "axisY": {"labelPadding": 6, "titlePadding": 8},
    "legend": {
      "orient": "none",
      "legendX": 299,
      "legendY": -36,
      "direction": "horizontal",
      "labelFont": "Liberation Serif, Times New Roman, serif",
      "labelFontWeight": "bold",
      "labelFontSize": 18,
      "labelColor": "black",
      "symbolSize": 90,
      "symbolStrokeWidth": 0,
      "labelOffset": 22,
      "columnPadding": 27
    }
  }
}
